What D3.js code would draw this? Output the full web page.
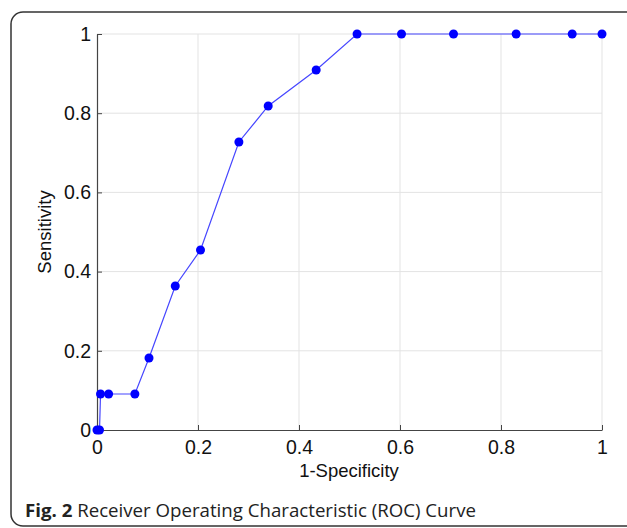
<!DOCTYPE html>
<html>
<head>
<meta charset="utf-8">
<script src="https://cdn.jsdelivr.net/npm/d3@7"></script>
<style>
  body { margin: 0; background: #fff; }
  svg { display: block; }
</style>
</head>
<body>
<svg id="chart" width="627" height="528"></svg>
<script>
// ROC points
const fpr = [0, 0.005, 0.007, 0.023, 0.075, 0.103, 0.155, 0.205, 0.281, 0.339, 0.434, 0.515, 0.603, 0.706, 0.830, 0.941, 1];
const tpr = [0, 0, 0.0909, 0.0909, 0.0909, 0.1818, 0.3636, 0.4545, 0.7273, 0.8182, 0.9091, 1, 1, 1, 1, 1, 1];
const tickVals = [0, 0.2, 0.4, 0.6, 0.8, 1];

const svg = d3.select('#chart');
const margin = {left: 97, top: 34, right: 25, bottom: 98};
const width = 627 - margin.left - margin.right;
const height = 528 - margin.top - margin.bottom;

// frame around figure + caption
svg.append('rect')
  .attr('x', 11).attr('y', 12)
  .attr('width', 640).attr('height', 514)
  .attr('rx', 12).attr('ry', 12)
  .attr('fill', 'none')
  .attr('stroke', '#333')
  .attr('stroke-width', 1.5);

const g = svg.append('g').attr('transform', `translate(${margin.left},${margin.top})`);

const x = d3.scaleLinear().domain([0, 1]).range([0, width]);
const y = d3.scaleLinear().domain([0, 1]).range([height, 0]);

// grid
g.append('g').selectAll('line').data(tickVals.slice(1)).join('line')
  .attr('x1', d => x(d)).attr('x2', d => x(d))
  .attr('y1', 0).attr('y2', height)
  .attr('stroke', '#e3e3e3').attr('stroke-width', 1);
g.append('g').selectAll('line').data(tickVals.slice(1)).join('line')
  .attr('x1', 0).attr('x2', width)
  .attr('y1', d => y(d)).attr('y2', d => y(d))
  .attr('stroke', '#e3e3e3').attr('stroke-width', 1);

const fmt = d => d === 0 ? '0' : d === 1 ? '1' : String(d);

const xAxis = g.append('g')
  .attr('transform', `translate(0,${height})`)
  .call(d3.axisBottom(x).tickValues(tickVals).tickFormat(fmt).tickSizeInner(-5).tickSizeOuter(0).tickPadding(10));
const yAxis = g.append('g')
  .call(d3.axisLeft(y).tickValues(tickVals).tickFormat(fmt).tickSizeInner(-5).tickSizeOuter(0).tickPadding(6));

[xAxis, yAxis].forEach(a => {
  a.select('.domain').attr('stroke', '#444').attr('stroke-width', 1.2);
  a.selectAll('.tick line').attr('stroke', '#444');
  a.selectAll('text')
    .attr('font-family', 'Liberation Sans, Arial, sans-serif')
    .attr('font-size', 19.5)
    .attr('fill', '#111');
});
xAxis.selectAll('text').attr('dy', '0.71em');

// ROC line and markers
const pts = fpr.map((d, i) => [d, tpr[i]]);
g.append('path')
  .datum(pts)
  .attr('fill', 'none')
  .attr('stroke', '#4646ff')
  .attr('stroke-width', 1.2)
  .attr('d', d3.line().x(d => x(d[0])).y(d => y(d[1])));

g.selectAll('circle.pt').data(pts).join('circle')
  .attr('class', 'pt')
  .attr('cx', d => x(d[0]))
  .attr('cy', d => y(d[1]))
  .attr('r', 4.5)
  .attr('fill', '#0000ff');

// axis labels
svg.append('text')
  .attr('x', 349).attr('y', 477)
  .attr('text-anchor', 'middle')
  .attr('font-family', 'Liberation Sans, Arial, sans-serif')
  .attr('font-size', 18.5)
  .attr('fill', '#111')
  .text('1-Specificity');

svg.append('text')
  .attr('transform', `translate(51,${margin.top + height / 2}) rotate(-90)`)
  .attr('text-anchor', 'middle')
  .attr('font-family', 'Liberation Sans, Arial, sans-serif')
  .attr('font-size', 18.5)
  .attr('fill', '#111')
  .text('Sensitivity');

// caption
const cap = svg.append('text')
  .attr('x', 25).attr('y', 517)
  .attr('font-family', 'Open Sans, sans-serif')
  .attr('font-size', 17.5)
  .attr('fill', '#222')
  .attr('textLength', 451)
  .attr('lengthAdjust', 'spacingAndGlyphs');
cap.append('tspan').attr('font-weight', 'bold').text('Fig. 2');
cap.append('tspan').text(' Receiver Operating Characteristic (ROC) Curve');
</script>
</body>
</html>
